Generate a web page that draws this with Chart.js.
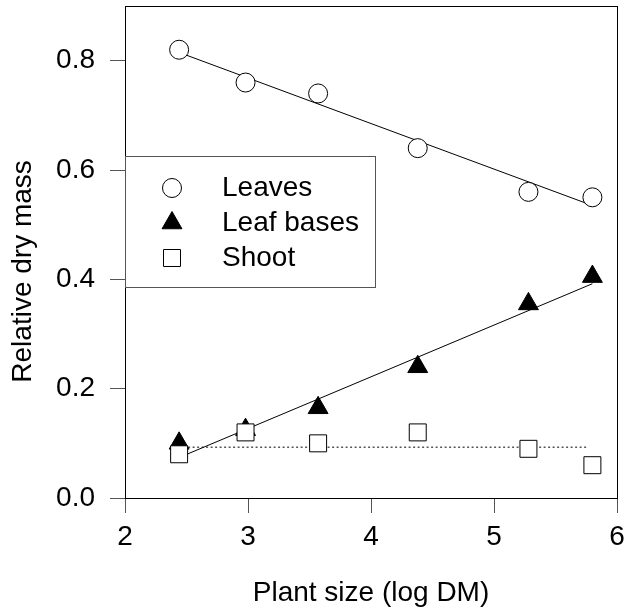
<!DOCTYPE html>
<html>
<head>
<meta charset="utf-8">
<script src="https://cdn.jsdelivr.net/npm/chart.js@4.4.0/dist/chart.umd.min.js"></script>
<style>
html, body { margin: 0; padding: 0; background: #fff; }
#wrap { width: 624px; height: 610px; }
</style>
</head>
<body>
<div id="wrap"><canvas id="c"></canvas></div>
<script>
// values
const plantSize = [2.44, 2.98, 3.57, 4.38, 5.28, 5.80];
const leaves = [0.82, 0.76, 0.74, 0.64, 0.56, 0.55];
const leafBases = [0.10, 0.125, 0.165, 0.24, 0.355, 0.405];
const shoot = [0.08, 0.12, 0.10, 0.12, 0.09, 0.06];

// regression lines (end points)
const fitX = [2.44, 5.80];
const leavesFit = [0.815, 0.535];
const basesFit = [0.074, 0.392];
const shootFitX = [2.44, 5.76];
const shootFit = [0.093, 0.093];

const xTicks = [2, 3, 4, 5, 6];
const yTicks = [0.0, 0.2, 0.4, 0.6, 0.8];

const FONT = 'Liberation Sans, Arial, sans-serif';
const pts = (xs, ys) => xs.map((x, i) => ({ x: x, y: ys[i] }));

function drawMarker(ctx, ds, x, y) {
    if (Chart.helpers && Chart.helpers.drawPoint) {
        ctx.fillStyle = ds.pointBackgroundColor;
        ctx.strokeStyle = ds.pointBorderColor;
        ctx.lineWidth = ds.pointBorderWidth;
        Chart.helpers.drawPoint(ctx, { pointStyle: ds.pointStyle, radius: ds.pointRadius, rotation: 0, borderWidth: ds.pointBorderWidth }, x, y);
    }
}

// frame around the plot + boxed legend inside it
const framePlugin = {
    id: 'frame',
    afterDatasetsDraw(chart) {
        const a = chart.chartArea, ctx = chart.ctx;
        ctx.save();
        ctx.strokeStyle = '#000';
        ctx.lineWidth = 1;
        ctx.strokeRect(Math.round(a.left) + 0.5, Math.round(a.top) + 0.5, Math.round(a.right - a.left), Math.round(a.bottom - a.top));
        ctx.restore();
    },
    afterDraw(chart) {
        const ctx = chart.ctx;
        ctx.save();
        ctx.fillStyle = '#fff';
        ctx.fillRect(126, 156, 249, 131);
        ctx.strokeStyle = '#555';
        ctx.lineWidth = 1;
        ctx.strokeRect(125.5, 156.5, 250, 131);
        const marks = chart.data.datasets.filter(d => d.inLegend);
        marks.forEach((ds, i) => {
            const y = 188 + i * 35;
            drawMarker(ctx, ds, 172, y);
            ctx.fillStyle = '#000';
            ctx.font = '28px ' + FONT;
            ctx.textAlign = 'left';
            ctx.textBaseline = 'middle';
            ctx.fillText(ds.label, 222, y);
        });
        ctx.restore();
    }
};

new Chart(document.getElementById('c'), {
    type: 'scatter',
    data: {
        datasets: [
            { label: 'Leaves', inLegend: true, data: pts(plantSize, leaves), pointStyle: 'circle', pointRadius: 9.5,
              pointBackgroundColor: '#fff', pointBorderColor: '#000', pointBorderWidth: 1, order: 1 },
            { label: 'Leaf bases', inLegend: true, data: pts(plantSize, leafBases), pointStyle: 'triangle', pointRadius: 11.5,
              pointBackgroundColor: '#000', pointBorderColor: '#000', pointBorderWidth: 1, order: 3 },
            { label: 'Shoot', inLegend: true, data: pts(plantSize, shoot), pointStyle: 'rect', pointRadius: 12,
              pointBackgroundColor: '#fff', pointBorderColor: '#000', pointBorderWidth: 1, order: 2 },
            { label: 'Leaves fit', data: pts(fitX, leavesFit), showLine: true, pointRadius: 0,
              borderColor: '#000', borderWidth: 1, order: 10 },
            { label: 'Leaf bases fit', data: pts(fitX, basesFit), showLine: true, pointRadius: 0,
              borderColor: '#000', borderWidth: 1, order: 10 },
            { label: 'Shoot fit', data: pts(shootFitX, shootFit), showLine: true, pointRadius: 0,
              borderColor: '#000', borderWidth: 1, borderDash: [2, 2.5], order: 10 }
        ]
    },
    options: {
        responsive: true,
        maintainAspectRatio: false,
        animation: false,
        layout: { autoPadding: false, padding: { top: 6, right: 7, left: 0, bottom: 0 } },
        plugins: { legend: { display: false }, tooltip: { enabled: false } },
        scales: {
            x: {
                type: 'linear', min: 2, max: 6,
                afterBuildTicks: s => { s.ticks = xTicks.map(v => ({ value: v })); },
                afterFit: s => { s.height = 112; s.paddingLeft = 0; s.paddingRight = 0; },
                ticks: { callback: v => String(v), color: '#000', padding: 7, font: { family: FONT, size: 28 } },
                grid: { drawOnChartArea: false, drawTicks: true, tickLength: 15, color: '#555' },
                border: { display: false },
                title: { display: true, text: 'Plant size (log DM)', color: '#000', padding: { top: 0, bottom: 0 }, font: { family: FONT, size: 28 } }
            },
            y: {
                type: 'linear', min: 0, max: 0.9,
                afterBuildTicks: s => { s.ticks = yTicks.map(v => ({ value: v })); },
                afterFit: s => { s.width = 125; s.paddingTop = 0; s.paddingBottom = 0; },
                ticks: { callback: v => v.toFixed(1), color: '#000', padding: 15, font: { family: FONT, size: 28 } },
                grid: { drawOnChartArea: false, drawTicks: true, tickLength: 15, color: '#555' },
                border: { display: false },
                title: { display: true, text: 'Relative dry mass\u00a0\u00a0\u00a0\u00a0\u00a0', color: '#000', padding: { top: 6, bottom: 0 }, font: { family: FONT, size: 28 } }
            }
        }
    },
    plugins: [framePlugin]
});
</script>
</body>
</html>
